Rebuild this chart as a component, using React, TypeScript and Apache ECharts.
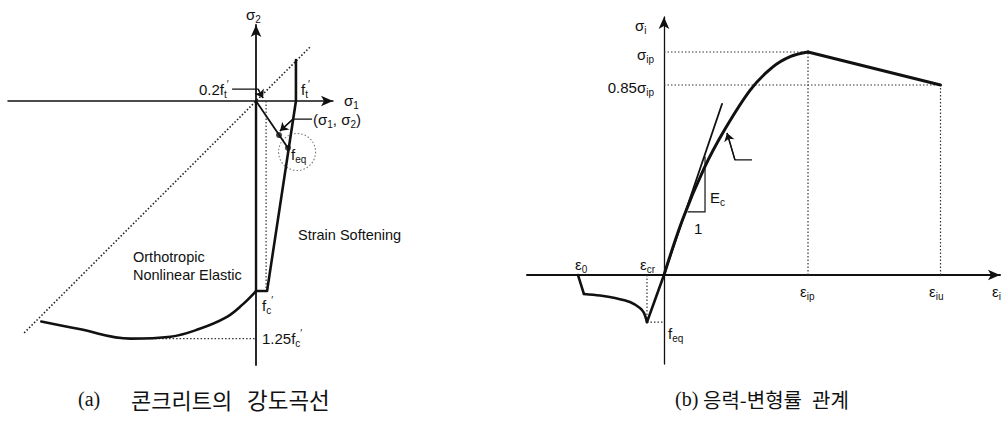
import React, { useEffect, useRef } from "react";
import * as echarts from "echarts";

// ---------- Panel (a): strength envelope (units of f'c) ----------
const aCompCurve = [[-1.13, -1.16], [-0.93, -1.2], [-0.66, -1.25], [-0.45, -1.24], [-0.3, -1.2], [-0.16, -1.14], [-0.07, -1.07], [0, -1]];
const aSoftening = [[0, -1], [0.058, -1], [0.21, 0], [0.21, 0.216]];
const aAxisSeg = [[0, 0], [0, -1]];
const aDiagonal = [[-1.22, -1.22], [0.29, 0.29]];
const aDotV = [[0.053, 0], [0.053, -1]];
const aDotH = [[-0.66, -1.25], [0, -1.25]];
const aLoadPath = [[0, 0], [0.168, -0.247]];
const aPoints = [[0.121, -0.179], [0.168, -0.247]];
const aCircle = [[0.216, -0.268]];
const aLead02 = [[-0.126, 0.063], [0.0105, 0.063], [0.037, 0.016]];
const aLeadS = [[0.295, -0.095], [0.195, -0.095], [0.126, -0.158]];

// ---------- Panel (b): stress-strain relation (eps/eps_ip, sigma/sigma_ip) ----------
const bCurve = [[0, 0], [0.13, 0.25], [0.28, 0.48], [0.42, 0.65], [0.6, 0.83], [0.75, 0.93], [0.88, 0.98], [1, 1]];
const bSoftening = [[1, 1], [1.92, 0.852]];
const bTangent = [[0, 0], [0.403, 0.767]];
const bTriangle = [[0.167, 0.283], [0.285, 0.283], [0.285, 0.53]];
const bTensionLine = [[0, 0], [-0.0625, -0.112], [-0.118, -0.211]];
const bTensionCurve = [[-0.118, -0.211], [-0.139, -0.17], [-0.167, -0.148], [-0.236, -0.121], [-0.34, -0.103], [-0.444, -0.092], [-0.556, -0.085]];
const bTensionEnd = [[-0.556, -0.085], [-0.597, 0]];
const bDotCrV = [[-0.118, 0], [-0.118, -0.211]];
const bDotCrH = [[-0.118, -0.211], [0, -0.211]];
const bDotPeakH = [[0, 1], [1, 1]];
const bDotPeakV = [[1, 0], [1, 1]];
const bDotUltH = [[0, 0.852], [1.92, 0.852]];
const bDotUltV = [[1.92, 0], [1.92, 0.852]];
const bLead = [[0.611, 0.516], [0.493, 0.516], [0.438, 0.637]];

const INK = "#111";
const DOT = "#333";
const F = "'Liberation Sans', Arial, sans-serif";

function line(g: number, data: number[][], width = 2.6, smooth: number | boolean = false) {
  return {
    type: "line", xAxisIndex: g, yAxisIndex: g, data, symbol: "none", silent: true, smooth,
    lineStyle: { color: INK, width, cap: "round", join: "round" }, z: 3,
  };
}
function dotted(g: number, data: number[][], width = 1.2, color = DOT) {
  return {
    type: "line", xAxisIndex: g, yAxisIndex: g, data, symbol: "none", silent: true,
    lineStyle: { color, width, type: [1.5, 2] }, z: 2,
  };
}
// leader: polyline body + arrowed final segment
function leader(g: number, coords: number[][]) {
  const n = coords.length;
  return [
    {
      type: "line", xAxisIndex: g, yAxisIndex: g, data: coords, symbol: "none", silent: true,
      lineStyle: { color: INK, width: 1.3 }, z: 4,
    },
    {
      type: "lines", coordinateSystem: "cartesian2d", xAxisIndex: g, yAxisIndex: g, silent: true,
      data: [{ coords: [coords[n - 2], coords[n - 1]] }], symbol: ["none", "arrow"], symbolSize: 8,
      lineStyle: { color: INK, width: 1.3, opacity: 1, curveness: 0 }, z: 4,
    },
  ];
}
function axis(g: number, min: number, max: number, width: number) {
  return {
    type: "value", gridIndex: g, min, max,
    axisLine: { show: true, onZero: true, symbol: ["none", "arrow"], symbolSize: [8, 12], lineStyle: { color: INK, width } },
    axisTick: { show: false }, axisLabel: { show: false }, splitLine: { show: false },
  };
}

const RICH = {
  m: { fontSize: 15, fontFamily: F, lineHeight: 20, fill: INK, color: INK },
  s: { fontSize: 10, fontFamily: F, lineHeight: 10, verticalAlign: "bottom", fill: INK, color: INK },
  p: { fontSize: 10, fontFamily: F, lineHeight: 10, verticalAlign: "top", fill: INK, color: INK },
};
function tx(x: number, y: number, text: string, align = "left") {
  return {
    type: "text", x, y, silent: true, z: 10,
    style: { text, rich: RICH, fontFamily: F, fontSize: 15, fill: INK, align, verticalAlign: "middle" },
  };
}
function plain(x: number, y: number, text: string, size = 14.5, family = F) {
  return {
    type: "text", x, y, silent: true, z: 10,
    style: { text, fontFamily: family, fontSize: size, fill: INK, align: "left", verticalAlign: "middle" },
  };
}
const CAP = "'Liberation Serif', 'Noto Sans CJK KR', serif";
const HANGUL = "'Noto Sans CJK KR', sans-serif";

export default function App() {
  const ref = useRef<HTMLDivElement>(null);
  useEffect(() => {
    if (!ref.current) return;
    const chart = echarts.init(ref.current, undefined, { renderer: "svg" });
    chart.setOption({
      animation: false,
      backgroundColor: "#fff",
      grid: [
        { left: 8, top: 25, width: 325, height: 340, containLabel: false },
        { left: 527, top: 17, width: 473, height: 347, containLabel: false },
      ],
      xAxis: [axis(0, -1.305, 0.405, 1.5), axis(1, -0.951, 2.333, 2)],
      yAxis: [axis(0, -1.389, 0.4, 1.8), axis(1, -0.399, 1.157, 1.3)],
      series: [
        dotted(0, aDiagonal, 1.6, "#222"),
        dotted(0, aDotV),
        dotted(0, aDotH),
        line(0, aCompCurve, 2.6, 0.4),
        line(0, aSoftening, 2.6),
        line(0, aAxisSeg, 2.4),
        line(0, aLoadPath, 1.8),
        {
          type: "scatter", xAxisIndex: 0, yAxisIndex: 0, data: aPoints, symbolSize: 6, silent: true,
          itemStyle: { color: INK }, z: 5,
        },
        {
          type: "scatter", xAxisIndex: 0, yAxisIndex: 0, data: aCircle, symbolSize: 37, silent: true,
          itemStyle: { color: "rgba(0,0,0,0)", borderColor: "#555", borderWidth: 1.1, borderType: [1.5, 2] }, z: 2,
        },
        ...leader(0, aLead02),
        ...leader(0, aLeadS),

        dotted(1, bDotPeakH), dotted(1, bDotPeakV), dotted(1, bDotUltH), dotted(1, bDotUltV),
        dotted(1, bDotCrV), dotted(1, bDotCrH),
        line(1, bCurve, 3, 0.35),
        line(1, bSoftening, 3),
        line(1, bTangent, 1.8),
        line(1, bTriangle, 1.2),
        line(1, bTensionLine, 2.6),
        line(1, bTensionCurve, 2.6, 0.35),
        line(1, bTensionEnd, 2.6),
        ...leader(1, bLead),
      ],
      graphic: [
        // panel (a)
        tx(246, 14, "{m|σ}{s|2}"),
        tx(344, 100, "{m|σ}{s|1}"),
        tx(301, 89, "{m|f}{s|t}{p|′}"),
        tx(199, 89, "{m|0.2f}{s|t}{p|′}"),
        tx(313, 119, "{m|(σ}{s|1}{m|, σ}{s|2}{m|)}"),
        tx(291, 154, "{m|f}{s|eq}"),
        tx(262, 305, "{m|f}{s|c}{p|′}"),
        tx(262, 338, "{m|1.25f}{s|c}{p|′}"),
        plain(133, 257, "Orthotropic"),
        plain(133, 275, "Nonlinear Elastic"),
        plain(298, 235, "Strain Softening"),
        // panel (b)
        tx(635, 25, "{m|σ}{s|i}"),
        tx(654, 54, "{m|σ}{s|ip}", "right"),
        tx(654, 87, "{m|0.85σ}{s|ip}", "right"),
        tx(710, 197, "{m|E}{s|c}"),
        tx(694, 228, "{m|1}"),
        tx(575, 264, "{m|ε}{s|0}"),
        tx(640, 264, "{m|ε}{s|cr}"),
        tx(800, 291, "{m|ε}{s|ip}"),
        tx(929, 291, "{m|ε}{s|iu}"),
        tx(992, 291, "{m|ε}{s|i}"),
        tx(668, 333, "{m|f}{s|eq}"),
        // captions
        plain(78, 399, "(a)", 20, CAP),
        plain(131, 399, "콘크리트의", 22, HANGUL),
        plain(247, 399, "강도곡선", 22.5, HANGUL),
        plain(675, 399, "(b)", 20, CAP),
        plain(703, 399, "응력-변형률", 20, HANGUL),
        plain(812, 399, "관계", 20, HANGUL),
      ],
    });
    return () => chart.dispose();
  }, []);
  return (
    <div
      ref={ref}
      style={{ position: "fixed", left: 0, top: 0, width: 1005, height: 421, background: "#fff" }}
    />
  );
}
